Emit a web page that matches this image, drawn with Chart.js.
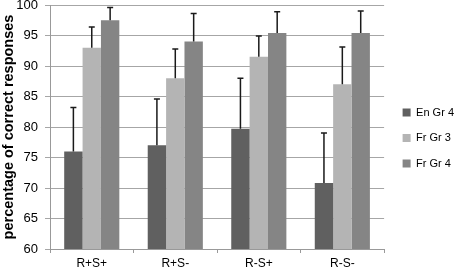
<!DOCTYPE html>
<html lang="en">
<head>
    <meta charset="UTF-8">
    <title>Percentage of correct responses</title>
    <script src="https://cdn.jsdelivr.net/npm/chart.js"></script>
    <style>
        body { margin: 0; background: #fff; }
    </style>
</head>
<body>
    <canvas id="barChart" width="454" height="271"></canvas>

    <script>
        const categories = ['R+S+', 'R+S-', 'R-S+', 'R-S-'];
        const seriesNames = ['En Gr 4', 'Fr Gr 3', 'Fr Gr 4'];

        // means
        const enGr4 = [76, 77, 79.7, 70.8];
        const frGr3 = [93, 88, 91.5, 87];
        const frGr4 = [97.5, 94, 95.4, 95.4];

        // upper error (drawn upward only)
        const enGr4Err = [7.2, 7.6, 8.3, 8.2];
        const frGr3Err = [3.4, 4.8, 3.4, 6.1];
        const frGr4Err = [2.1, 4.6, 3.5, 3.6];

        const yTicks = [60, 65, 70, 75, 80, 85, 90, 95, 100];

        const colors = ['#606060', '#b4b4b4', '#858585'];
        const errors = [enGr4Err, frGr3Err, frGr4Err];

        // draws the error bars on top of each bar
        const errorBars = {
            id: 'errorBars',
            afterDatasetsDraw(chart) {
                const ctx = chart.ctx;
                const yScale = chart.scales.y;
                ctx.save();
                ctx.strokeStyle = '#1a1a1a';
                ctx.lineWidth = 1.5;
                chart.data.datasets.forEach((ds, i) => {
                    const meta = chart.getDatasetMeta(i);
                    meta.data.forEach((bar, j) => {
                        const top = yScale.getPixelForValue(ds.data[j] + errors[i][j]);
                        ctx.beginPath();
                        ctx.moveTo(bar.x, bar.y);
                        ctx.lineTo(bar.x, top);
                        ctx.moveTo(bar.x - 3, top);
                        ctx.lineTo(bar.x + 3, top);
                        ctx.stroke();
                    });
                });
                ctx.restore();
            }
        };

        const noPad = (axis) => { axis.paddingTop = 0; axis.paddingBottom = 0; };

        new Chart(document.getElementById('barChart'), {
            type: 'bar',
            data: {
                labels: categories,
                datasets: [enGr4, frGr3, frGr4].map((d, i) => ({
                    label: seriesNames[i],
                    data: d,
                    backgroundColor: colors[i],
                    barPercentage: 1,
                    categoryPercentage: 0.66,
                })),
            },
            options: {
                responsive: false,
                animation: false,
                layout: {
                    autoPadding: false,
                    padding: { top: 5, right: -10, left: 0, bottom: 0 },
                },
                scales: {
                    x: {
                        afterFit: (axis) => { axis.height = 22; },
                        grid: { drawOnChartArea: false, color: '#999', tickLength: 4 },
                        border: { color: '#999' },
                        ticks: {
                            color: '#000',
                            font: { family: 'Liberation Sans', size: 12 },
                            padding: 3.6,
                        },
                    },
                    y: {
                        min: 60,
                        max: 100,
                        afterBuildTicks: (axis) => {
                            axis.ticks = yTicks.map(v => ({ value: v }));
                        },
                        afterFit: (axis) => { axis.width = 50; noPad(axis); },
                        grid: { color: '#a6a6a6', tickLength: 5 },
                        border: { color: '#999' },
                        ticks: {
                            color: '#000',
                            font: { family: 'Liberation Sans', size: 13 },
                            padding: 7,
                        },
                        title: {
                            display: true,
                            text: 'percentage of correct responses',
                            color: '#000',
                            font: { family: 'Liberation Sans', size: 14.5, weight: 'bold' },
                            padding: { top: 0, bottom: 0 },
                        },
                    },
                    // empty spacer between plot area and legend
                    gap: {
                        type: 'linear',
                        position: 'right',
                        grid: { display: false },
                        border: { display: false },
                        ticks: { display: false },
                        afterFit: (axis) => { axis.width = 4; noPad(axis); },
                    },
                },
                plugins: {
                    legend: {
                        position: 'right',
                        labels: {
                            boxWidth: 8,
                            boxHeight: 8,
                            padding: 14.5,
                            color: '#000',
                            font: { family: 'Liberation Sans', size: 11 },
                        },
                    },
                    tooltip: { enabled: false },
                },
            },
            plugins: [errorBars],
        });
    </script>
</body>
</html>
